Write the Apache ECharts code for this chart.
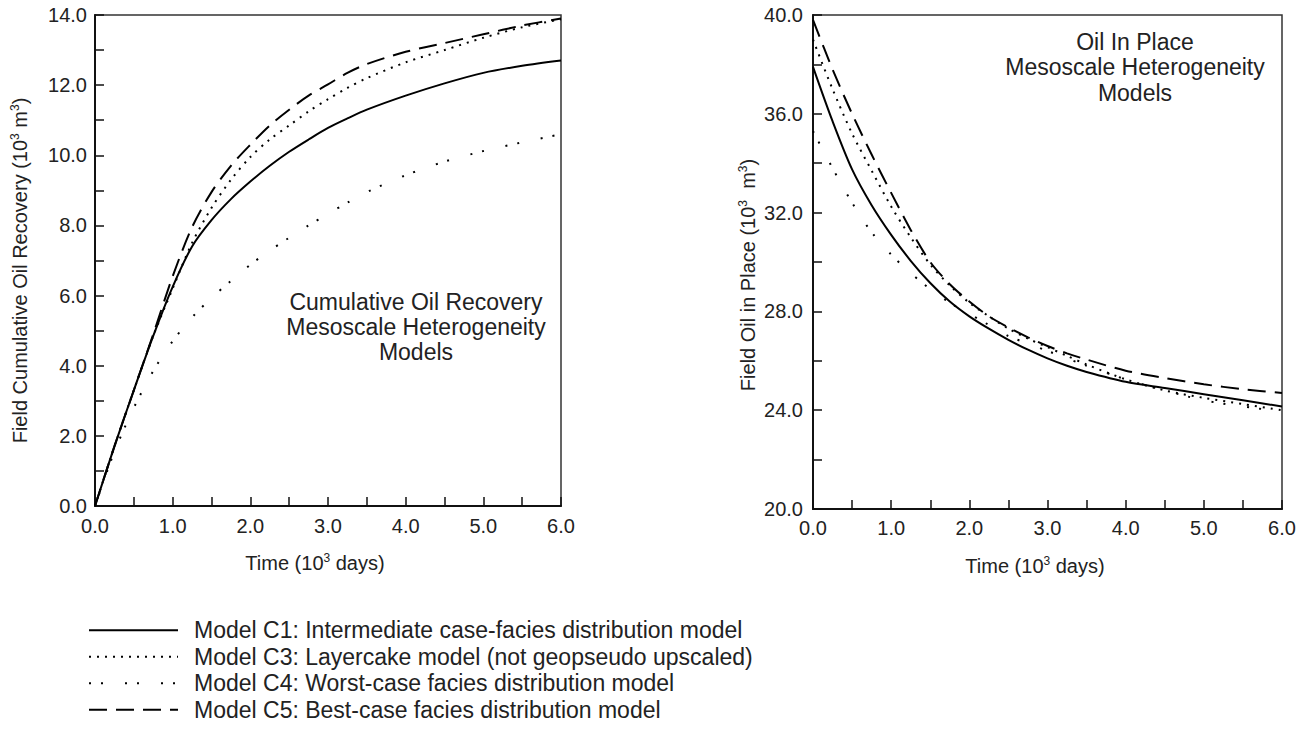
<!DOCTYPE html>
<html>
<head>
<meta charset="utf-8">
<title>Mesoscale Heterogeneity Models</title>
<script src="https://cdn.jsdelivr.net/npm/echarts@6/dist/echarts.min.js"></script>
<style>
  html, body { margin: 0; padding: 0; background: #fff; }
  #chart { width: 1301px; height: 734px; }
</style>
</head>
<body>
<div id="chart"></div>
<script>
// Time samples, 10^3 days
const time = [0, 0.25, 0.5, 0.75, 1.0, 1.25, 1.5, 1.75, 2.0, 2.25, 2.5, 2.75, 3.0, 3.25, 3.5, 4.0, 4.5, 5.0, 5.5, 6.0];

// Field cumulative oil recovery, 10^3 m^3
const recoveryC1 = [0, 1.7, 3.3, 4.85, 6.25, 7.4, 8.15, 8.75, 9.25, 9.7, 10.1, 10.45, 10.78, 11.05, 11.3, 11.7, 12.05, 12.35, 12.55, 12.7];
const recoveryC3 = [0, 1.7, 3.3, 4.85, 6.2, 7.5, 8.5, 9.3, 9.95, 10.45, 10.85, 11.25, 11.6, 11.92, 12.2, 12.65, 13.0, 13.35, 13.65, 13.88];
const recoveryC4 = [0, 1.55, 2.8, 3.85, 4.7, 5.38, 5.93, 6.42, 6.88, 7.28, 7.65, 8.0, 8.33, 8.65, 8.95, 9.43, 9.82, 10.12, 10.37, 10.6];
const recoveryC5 = [0, 1.7, 3.3, 4.9, 6.55, 7.95, 8.95, 9.7, 10.3, 10.85, 11.3, 11.7, 12.02, 12.35, 12.6, 12.95, 13.2, 13.45, 13.7, 13.9];

// Field oil in place, 10^3 m^3
const oipC1 = [37.9, 35.7, 33.75, 32.3, 31.1, 30.05, 29.15, 28.4, 27.8, 27.3, 26.85, 26.45, 26.1, 25.8, 25.55, 25.15, 24.9, 24.65, 24.4, 24.15];
const oipC3 = [39.0, 37.0, 35.2, 33.7, 32.25, 31.0, 29.9, 29.05, 28.35, 27.8, 27.3, 26.9, 26.55, 26.2, 25.85, 25.25, 24.8, 24.5, 24.25, 24.0];
const oipC4 = [35.3, 33.8, 32.4, 31.2, 30.3, 29.55, 28.9, 28.35, 27.9, 27.45, 27.0, 26.7, 26.4, 26.1, 25.8, 25.25, 24.8, 24.4, 24.15, 23.95];
const oipC5 = [39.8, 37.8, 36.0, 34.35, 32.8, 31.3, 30.0, 29.1, 28.4, 27.8, 27.35, 26.95, 26.6, 26.3, 26.05, 25.6, 25.3, 25.05, 24.85, 24.7];

const modelNames = [
  'Model C1: Intermediate case-facies distribution model',
  'Model C3: Layercake model (not geopseudo upscaled)',
  'Model C4: Worst-case facies distribution model',
  'Model C5: Best-case facies distribution model'
];

const FONT = '"Liberation Sans", Arial, Helvetica, sans-serif';
const INK = '#222';
const LINE = '#000';

// dash pattern per model
const dashes = ['solid', [2, 6], [2, 10, 2, 22], [18, 9]];

function pairs(values) {
  return time.map((t, i) => [t, values[i]]);
}

const supStyle = { fontSize: 12, fontFamily: FONT, color: INK, verticalAlign: 'top', lineHeight: 22 };
const baseRich = { fontSize: 20, fontFamily: FONT, color: INK, lineHeight: 22 };

function valueAxis(opts) {
  return Object.assign({
    type: 'value',
    axisLine: { show: true, onZero: false, lineStyle: { color: '#111', width: 2 } },
    axisTick: { show: true, inside: true, length: 9, lineStyle: { color: '#111', width: 1.5 } },
    minorTick: { show: true, splitNumber: 2, length: 9, lineStyle: { color: '#111', width: 1.5 } },
    splitLine: { show: false },
    minorSplitLine: { show: false },
    axisLabel: { formatter: v => v.toFixed(1), fontSize: 20, fontFamily: FONT, color: INK },
    nameLocation: 'middle'
  }, opts);
}

function lineSeries(name, values, xi, style) {
  return {
    name: name,
    type: 'line',
    xAxisIndex: xi,
    yAxisIndex: xi,
    data: pairs(values),
    symbol: 'none',
    smooth: 0.3,
    lineStyle: { color: LINE, width: 2, type: style, cap: 'butt' },
    itemStyle: { color: LINE },
    emphasis: { disabled: true }
  };
}

const recovery = [recoveryC1, recoveryC3, recoveryC4, recoveryC5];
const oip = [oipC1, oipC3, oipC4, oipC5];

const series = [];
modelNames.forEach((n, k) => series.push(lineSeries(n, recovery[k], 0, dashes[k])));
modelNames.forEach((n, k) => series.push(lineSeries(n, oip[k], 1, dashes[k])));

const chart = echarts.init(document.getElementById('chart'), null, { renderer: 'svg' });

chart.setOption({
  animation: false,
  backgroundColor: '#fff',
  grid: [
    { left: 95, top: 15, right: 740, bottom: 228, show: true, borderColor: '#333', borderWidth: 1.5 },
    { left: 813, top: 15, right: 19, bottom: 225, show: true, borderColor: '#333', borderWidth: 1.5 }
  ],
  xAxis: [
    valueAxis({
      gridIndex: 0, min: 0, max: 6, interval: 1,
      axisLabel: { formatter: v => v.toFixed(1), fontSize: 20, fontFamily: FONT, color: INK, margin: 10 },
      name: '{b|Time (10}{s|3}{b| days)}', nameGap: 46,
      nameTextStyle: { padding: [0, 26, 0, 0], rich: { b: baseRich, s: supStyle } }
    }),
    valueAxis({
      gridIndex: 1, min: 0, max: 6, interval: 1,
      axisLabel: { formatter: v => v.toFixed(1), fontSize: 20, fontFamily: FONT, color: INK, margin: 9 },
      name: '{b|Time (10}{s|3}{b| days)}', nameGap: 46,
      nameTextStyle: { padding: [0, 25, 0, 0], rich: { b: baseRich, s: supStyle } }
    })
  ],
  yAxis: [
    valueAxis({
      gridIndex: 0, min: 0, max: 14, interval: 2,
      axisLabel: { formatter: v => v.toFixed(1), fontSize: 20, fontFamily: FONT, color: INK, margin: 8 },
      name: '{b|Field Cumulative Oil Recovery (10}{s|3}{b| m}{s|3}{b|)}', nameGap: 64,
      nameTextStyle: { padding: [0, 20, 0, 0], rich: { b: baseRich, s: supStyle } }
    }),
    valueAxis({
      gridIndex: 1, min: 20, max: 40, interval: 4,
      axisLabel: { formatter: v => v.toFixed(1), fontSize: 20, fontFamily: FONT, color: INK, margin: 10 },
      name: '{b|Field Oil in Place (10}{s|3}{b|  m}{s|3}{b|)}', nameGap: 54,
      nameTextStyle: { padding: [0, 26, 0, 0], rich: { b: baseRich, s: supStyle } }
    })
  ],
  legend: {
    data: modelNames,
    orient: 'vertical',
    left: 88,
    top: 617,
    padding: 0,
    itemGap: 0,
    itemWidth: 89,
    itemHeight: 12,
    selectedMode: false,
    itemStyle: { color: 'rgba(0,0,0,0)', borderWidth: 0, opacity: 0 },
    textStyle: { fontSize: 23, fontFamily: FONT, color: INK, lineHeight: 26.5, padding: [0, 0, 0, 11] }
  },
  graphic: [
    {
      type: 'text', x: 416, y: 289, silent: true,
      style: {
        text: 'Cumulative Oil Recovery\nMesoscale Heterogeneity\nModels',
        align: 'center', verticalAlign: 'top',
        fontSize: 23, fontFamily: FONT, fill: INK, lineHeight: 25
      }
    },
    {
      type: 'text', x: 1135, y: 29, silent: true,
      style: {
        text: 'Oil In Place\nMesoscale Heterogeneity\nModels',
        align: 'center', verticalAlign: 'top',
        fontSize: 23, fontFamily: FONT, fill: INK, lineHeight: 25.5
      }
    }
  ],
  series: series
});
</script>
</body>
</html>
